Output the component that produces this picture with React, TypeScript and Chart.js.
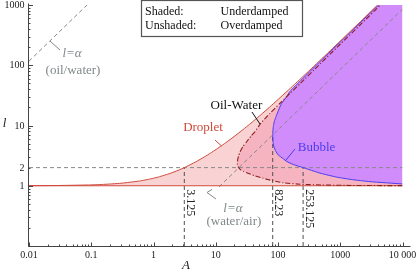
import React, { useEffect, useRef } from "react";
import { Chart, registerables } from "chart.js";

Chart.register(...registerables);

// ---------- data (A = x, l = y) ----------
const A_MIN = 0.01;
const A_MAX = 10000;
const L_MIN = 0.1;
const L_MAX = 1000;
const L_BASE = 1;
const L_REF = 2;

// Droplet boundary
const dropletA = [0.01, 0.03, 0.09, 0.15, 0.3, 0.6, 0.9, 1.21, 1.84, 2.48, 3.125, 4.8, 6.53, 8.3, 10.1, 13.8, 17.6, 25.3, 33.1, 40.9, 52.8, 72.6, 112, 192, 392, 792, 1992, 3992];
const dropletL = [1.003, 1.01, 1.03, 1.05, 1.1, 1.2, 1.3, 1.4, 1.6, 1.8, 2, 2.5, 3, 3.5, 4, 5, 6, 8, 10, 12, 15, 20, 30, 50, 100, 200, 500, 1000];

// Oil-Water boundary (lower and upper branch, both starting at the nose)
const owLowerA = [22.2, 22.6, 23.6, 25.5, 28, 33, 42, 58, 80, 122, 225, 500, 1500, 10000];
const owLowerL = [2.35, 2.12, 1.96, 1.82, 1.72, 1.61, 1.47, 1.33, 1.22, 1.12, 1.06, 1.03, 1.012, 1.003];
const owUpperA = [22.2, 22.5, 23.3, 24.6, 27.5, 31.4, 36.5, 42.7, 52.6, 74.3, 107.6, 156, 229, 451, 895, 2231, 4430];
const owUpperL = [2.35, 2.7, 3.15, 3.67, 4.5, 5.38, 6.6, 7.9, 10.85, 15.9, 23.4, 34.2, 50, 100, 200, 500, 1000];

// Bubble boundary (lower and upper branch, both starting at the nose)
const bubLowerA = [82.23, 82.6, 83.5, 86, 92, 101, 121.6, 138, 176, 253.125, 473, 877, 1500, 3006, 10000];
const bubLowerL = [6.3, 5.7, 5.2, 4.4, 3.75, 3.24, 2.8, 2.53, 2.25, 2, 1.62, 1.39, 1.27, 1.17, 1.07];
const bubUpperA = [82.23, 82.4, 83, 84.5, 88, 92.9, 102, 114.6, 137, 156, 233, 322, 412, 824, 2062, 4130];
const bubUpperL = [6.3, 7.2, 8.4, 10, 12, 14, 18, 23.4, 30, 37, 56, 78, 100, 200, 500, 1000];

// l = alpha reference lines
const oilWaterAlphaA = [0.01, 0.0855];
const oilWaterAlphaL = [117, 1000];
const waterAirAlphaA = [11.3, 10000];
const waterAirAlphaL = [0.96, 851];

// marked A values
const markA = [3.125, 82.23, 253.125];
const markTopL = [2, 6.8, 2];
const markLabels = ["3.125", "82.23", "253.125"];

// tick labels
const xTickValues = [0.01, 0.1, 1, 10, 100, 1000, 10000];
const xTickLabels = ["0.01", "0.1", "1", "10", "100", "1000", "10 000"];
const yTickValues = [1, 2, 10, 100, 1000];
const yTickLabels = ["1", "2", "10", "100", "1000"];

// ---------- styles ----------
const SERIF = "'Liberation Serif', 'DejaVu Serif', serif";
const LIGHT_PINK = "#f9d3d3";
const MED_PINK = "#f6b4c0";
const PURPLE = "#d08cfa";
const RED = "#cf4a3c";
const DARK_RED = "#8e1f1f";
const BLUE = "#4b3cf0";
const GRAY = "#888888";
const DARK_DASH = "#505050";
const LABEL_GRAY = "#80898a";
const AXIS = "#444444";

function pts(a: number[], l: number[]) {
  return a.map((x, i) => ({ x, y: l[i] }));
}

const decorPlugin = {
  id: "decor",
  afterDraw(chart: any) {
    const ctx: CanvasRenderingContext2D = chart.ctx;
    const xs = chart.scales.x;
    const ys = chart.scales.y;
    const px = (a: number) => xs.getPixelForValue(a);
    const py = (l: number) => ys.getPixelForValue(l);
    ctx.save();

    // axes
    const x0 = Math.round(px(A_MIN)) - 0.5;
    const y0 = Math.round(py(L_MIN)) + 0.5;
    ctx.strokeStyle = AXIS;
    ctx.lineWidth = 1;
    ctx.setLineDash([]);
    ctx.beginPath();
    ctx.moveTo(x0, y0);
    ctx.lineTo(x0, py(L_MAX) - 1.5);
    ctx.moveTo(x0, y0);
    ctx.lineTo(px(A_MAX) + 8, y0);
    ctx.stroke();

    // ticks
    ctx.beginPath();
    for (let d = -2; d <= 4; d++) {
      for (let k = 1; k <= 9; k++) {
        const v = k * Math.pow(10, d);
        if (v < A_MIN * 0.999 || v > A_MAX * 1.001) continue;
        const x = Math.round(px(v)) + 0.5;
        const len = k === 1 ? 4 : 2;
        ctx.moveTo(x, y0);
        ctx.lineTo(x, y0 - len);
      }
    }
    for (let d = -1; d <= 3; d++) {
      for (let k = 1; k <= 9; k++) {
        const v = k * Math.pow(10, d);
        if (v < L_MIN * 0.999 || v > L_MAX * 1.001) continue;
        const y = Math.round(py(v)) + 0.5;
        const len = k === 1 ? 4.5 : 2;
        ctx.moveTo(x0, y);
        ctx.lineTo(x0 + len, y);
      }
    }
    ctx.stroke();

    // tick labels
    ctx.fillStyle = "#222";
    ctx.font = `10px ${SERIF}`;
    ctx.textAlign = "center";
    ctx.textBaseline = "top";
    xTickValues.forEach((v, i) => ctx.fillText(xTickLabels[i], px(v), y0 + 3.5));
    ctx.textAlign = "right";
    ctx.textBaseline = "middle";
    yTickValues.forEach((v, i) => ctx.fillText(yTickLabels[i], x0 - 4, py(v) + 0.5));

    // axis titles
    ctx.font = `italic 13px ${SERIF}`;
    ctx.textAlign = "center";
    ctx.textBaseline = "middle";
    ctx.fillText("A", 186, 266);
    ctx.fillText("l", 4.5, 124);

    // rotated marks
    ctx.font = `12px ${SERIF}`;
    ctx.fillStyle = "#222";
    markA.forEach((a, i) => {
      ctx.save();
      ctx.translate(px(a) + 2.5, py(L_BASE) + 3.5);
      ctx.rotate(Math.PI / 2);
      ctx.textAlign = "left";
      ctx.textBaseline = "alphabetic";
      ctx.fillText(markLabels[i], 0, 0);
      ctx.restore();
    });

    // callouts
    const label = (s: string, a: number, l: number, color: string, font: string) => {
      ctx.fillStyle = color;
      ctx.font = font;
      ctx.textAlign = "center";
      ctx.textBaseline = "middle";
      ctx.fillText(s, px(a), py(l));
    };
    const leader = (coords: number[][], color: string) => {
      ctx.strokeStyle = color;
      ctx.lineWidth = 1;
      ctx.beginPath();
      coords.forEach(([a, l], i) => (i ? ctx.lineTo(px(a), py(l)) : ctx.moveTo(px(a), py(l))));
      ctx.stroke();
    };
    const F = `13px ${SERIF}`;
    const FI = `italic 13px ${SERIF}`;
    label("Droplet", 6.24, 9.09, RED, F);
    leader([[9.72, 5.75], [12.36, 4.57]], RED);
    label("Oil-Water", 21.5, 21.5, "#111", F);
    leader([[38.2, 16.75], [51.4, 10.59]], "#111");
    label("Bubble", 416, 4.23, BLUE, F);
    leader([[187.5, 4.07], [132, 2.62]], BLUE);
    label("l=α", 0.0491, 153.7, LABEL_GRAY, FI);
    label("(oil/water)", 0.0509, 80.3, LABEL_GRAY, F);
    leader([[0.0217, 252.6], [0.0315, 179]], LABEL_GRAY);
    label("l=α", 18.9, 0.411, LABEL_GRAY, FI);
    label("(water/air)", 19.6, 0.25, LABEL_GRAY, F);
    leader([[10.1, 0.603], [7.23, 0.773], [8.71, 0.867]], LABEL_GRAY);

    // legend box
    ctx.fillStyle = "#fff";
    ctx.fillRect(141.5, 0.5, 161, 36);
    ctx.strokeStyle = "#555";
    ctx.lineWidth = 1.2;
    ctx.strokeRect(141.5, 0.5, 161, 36);
    ctx.fillStyle = "#111";
    ctx.font = `12px ${SERIF}`;
    ctx.textAlign = "left";
    ctx.textBaseline = "alphabetic";
    ctx.fillText("Shaded:", 145, 14.8);
    ctx.fillText("Underdamped", 220.5, 14.8);
    ctx.fillText("Unshaded:", 145, 28.8);
    ctx.fillText("Overdamped", 220.5, 28.8);

    ctx.restore();
  },
};

export default function App() {
  const ref = useRef<HTMLCanvasElement>(null);

  useEffect(() => {
    document.body.style.margin = "0";
    const canvas = ref.current!;
    const datasets: any[] = [];
    const add = (d: any) => {
      datasets.push({ pointRadius: 0, tension: 0.15, borderJoinStyle: "round", fill: false, ...d });
      return datasets.length - 1;
    };
    const hidden = { borderWidth: 0, borderColor: "rgba(0,0,0,0)" };

    // fills
    add({ ...hidden, data: [...pts(dropletA, dropletL), { x: A_MAX, y: L_MAX }], fill: { value: L_BASE }, backgroundColor: LIGHT_PINK, order: 10 });
    const owLowerIdx = add({ ...hidden, data: pts(owLowerA, owLowerL), order: 9 });
    add({ ...hidden, data: [...pts(owUpperA, owUpperL), { x: A_MAX, y: L_MAX }], fill: owLowerIdx, backgroundColor: MED_PINK, order: 9 });
    const bubLowerIdx = add({ ...hidden, data: pts(bubLowerA, bubLowerL), order: 8 });
    add({ ...hidden, data: [...pts(bubUpperA, bubUpperL), { x: A_MAX, y: L_MAX }], fill: bubLowerIdx, backgroundColor: PURPLE, order: 8 });

    // dashed reference lines
    const dash = { borderWidth: 1, borderDash: [4, 3], tension: 0 };
    add({ ...dash, borderColor: GRAY, data: [{ x: A_MIN, y: L_REF }, { x: A_MAX, y: L_REF }], order: 3 });
    markA.forEach((a, i) =>
      add({ ...dash, borderColor: DARK_DASH, data: [{ x: a, y: L_MIN }, { x: a, y: markTopL[i] }], order: 3 })
    );
    add({ ...dash, borderColor: GRAY, data: pts(oilWaterAlphaA, oilWaterAlphaL), order: 3 });
    add({ ...dash, borderColor: GRAY, data: pts(waterAirAlphaA, waterAirAlphaL), order: 3 });

    // curves
    add({ borderWidth: 1, borderColor: RED, data: [{ x: A_MIN, y: L_BASE }, { x: A_MAX, y: L_BASE }], tension: 0, order: 2 });
    add({ borderWidth: 1, borderColor: RED, data: pts(dropletA, dropletL), order: 1 });
    add({
      borderWidth: 1,
      borderColor: BLUE,
      data: [...pts(bubLowerA, bubLowerL).reverse(), ...pts(bubUpperA, bubUpperL).slice(1)],
      order: 1,
    });
    add({
      borderWidth: 1.1,
      borderColor: DARK_RED,
      borderDash: [5, 2, 1.2, 2],
      data: [...pts(owLowerA, owLowerL).reverse(), ...pts(owUpperA, owUpperL).slice(1)],
      order: 0,
    });

    const chart = new Chart(canvas, {
      type: "line",
      data: { datasets },
      options: {
        animation: false,
        responsive: false,
        devicePixelRatio: 1,
        events: [],
        layout: { padding: { left: 29, right: 13.5, top: 5, bottom: 30 } },
        plugins: { legend: { display: false }, tooltip: { enabled: false } },
        scales: {
          x: { type: "logarithmic", min: A_MIN, max: A_MAX, display: false },
          y: { type: "logarithmic", min: L_MIN, max: L_MAX, display: false },
        },
      },
      plugins: [decorPlugin],
    } as any);

    return () => chart.destroy();
  }, []);

  return (
    <div style={{ position: "fixed", left: 0, top: 0, width: 416, height: 276, background: "#fff" }}>
      <canvas ref={ref} width={416} height={276} style={{ display: "block", width: 416, height: 276 }} />
    </div>
  );
}
